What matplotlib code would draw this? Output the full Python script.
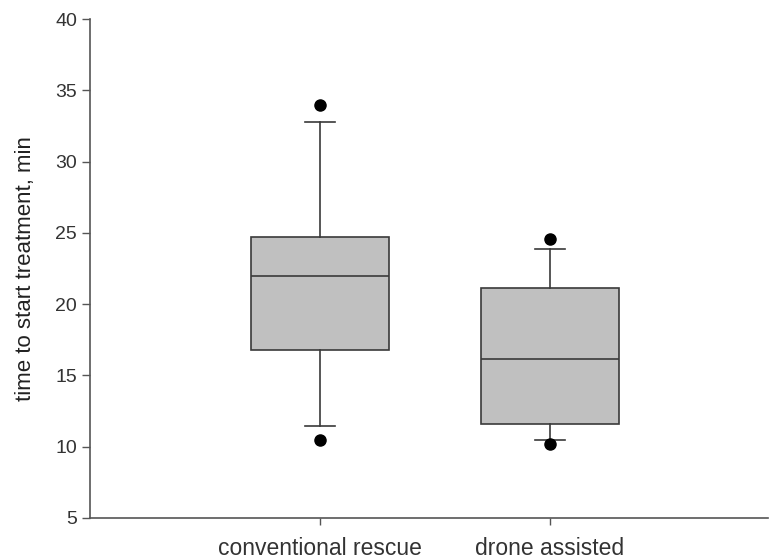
import matplotlib.pyplot as plt

plt.rcParams['font.family'] = ['Liberation Sans', 'DejaVu Sans']

# 箱线图统计值
groups = ["conventional rescue", "drone assisted"]
q1 = [16.75, 11.6]
med = [22.0, 16.15]
q3 = [24.7, 21.1]
whislo = [11.45, 10.45]
whishi = [32.8, 23.9]
fliers = [[34.0, 10.5], [24.55, 10.2]]
yticks = [5, 10, 15, 20, 25, 30, 35, 40]

stats = []
for i, name in enumerate(groups):
    stats.append(dict(label=name, q1=q1[i], med=med[i], q3=q3[i],
                      whislo=whislo[i], whishi=whishi[i], fliers=fliers[i]))

fig = plt.figure(figsize=(7.71, 5.6), dpi=100)
ax = fig.add_axes([0.117, 0.075, 0.879, 0.891])

edge = "#3a3a3a"
ax.bxp(stats, positions=[1, 2], widths=0.6, patch_artist=True,
       boxprops=dict(facecolor="#c0c0c0", edgecolor=edge, linewidth=1.2),
       medianprops=dict(color=edge, linewidth=1.2),
       whiskerprops=dict(color=edge, linewidth=1.2),
       capprops=dict(color=edge, linewidth=1.2),
       capwidths=0.13,
       flierprops=dict(marker="o", markerfacecolor="black", markeredgecolor="black",
                       markersize=8))

ax.set_xlim(0, 2.95)
ax.set_ylim(5, 40)
ax.set_yticks(yticks)
ax.set_ylabel("time to start treatment, min", fontsize=16, color="#222222", labelpad=14)

for s in ["top", "right"]:
    ax.spines[s].set_visible(False)
for s in ["left", "bottom"]:
    ax.spines[s].set_color("#555555")
    ax.spines[s].set_linewidth(1.2)

ax.tick_params(axis="y", labelsize=14, colors="#555555", labelcolor="#333333",
               length=6, width=1)
ax.tick_params(axis="x", labelsize=16.5, colors="#555555", labelcolor="#333333",
               length=5, width=1, pad=9)

fig.savefig("out.png", dpi=100)
